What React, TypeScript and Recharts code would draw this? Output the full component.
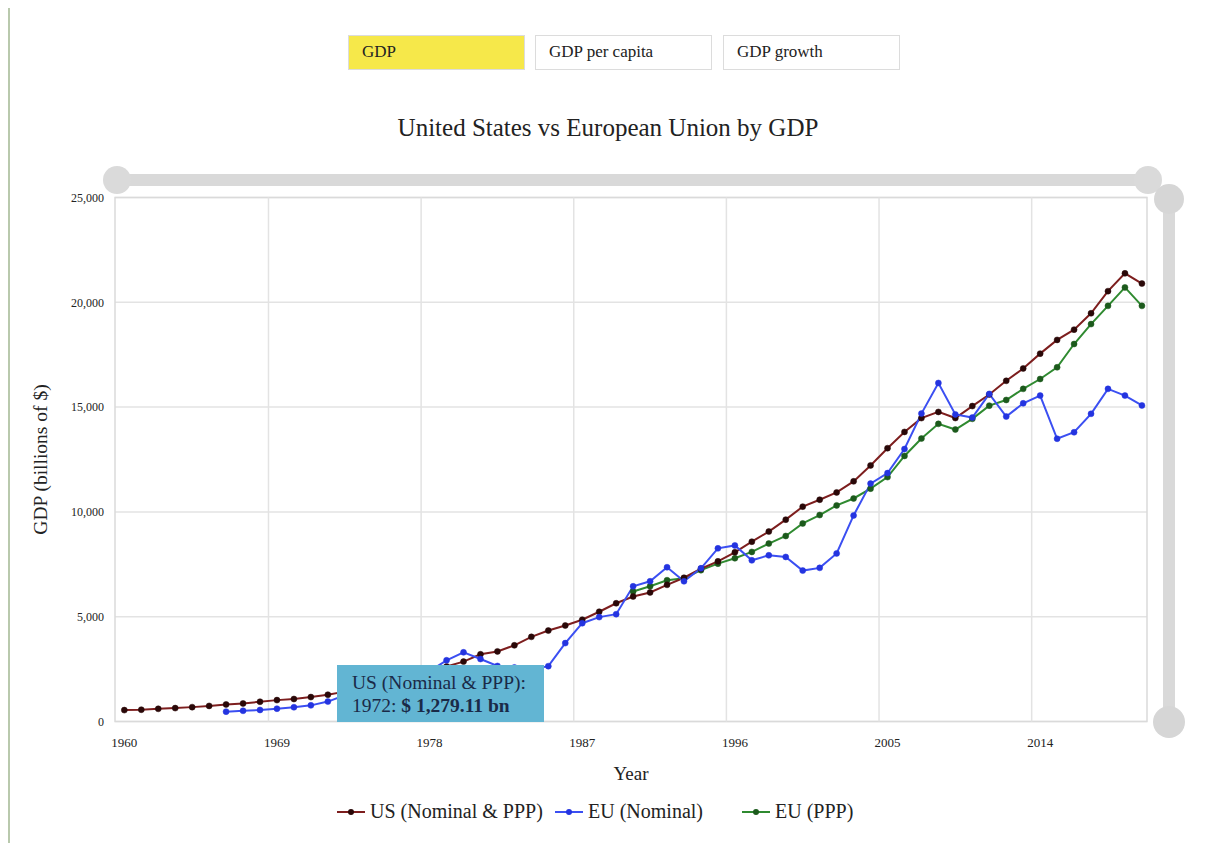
import React from 'react';
import {
  LineChart,
  Line,
  XAxis,
  YAxis,
  CartesianGrid,
  Tooltip,
  Legend,
  ReferenceLine,
  ReferenceArea,
} from 'recharts';

// ---------- data ----------
const years: number[] = [];
for (let y = 1960; y <= 2020; y++) years.push(y);

const usGdp = [
  543.3, 563.3, 605.1, 638.6, 685.8, 743.7, 815.0, 861.7, 942.5, 1019.9,
  1073.3, 1164.9, 1279.11, 1425.4, 1545.2, 1684.9, 1873.4, 2081.8, 2351.6, 2627.3,
  2857.3, 3207.0, 3343.8, 3634.0, 4037.6, 4338.9, 4579.6, 4855.2, 5236.4, 5641.6,
  5963.1, 6158.1, 6520.3, 6858.6, 7287.2, 7639.7, 8073.1, 8577.6, 9062.8, 9631.2,
  10251.0, 10581.9, 10929.1, 11456.5, 12217.2, 13039.2, 13815.6, 14474.2, 14769.9, 14478.1,
  15049.0, 15599.7, 16254.0, 16843.2, 17550.7, 18206.0, 18695.1, 19477.3, 20533.1, 21380.9,
  20893.7,
];

const euNominalStart = 1966;
const euNominal = [
  470, 510, 550, 610, 680, 770, 950,
  1250, 1400, 1650, 1720, 1950, 2400, 2920,
  3300, 2980, 2650, 2580, 2480, 2640, 3740, 4690, 4980, 5120,
  6450, 6690, 7360, 6690, 7310, 8260, 8400, 7690, 7930, 7850,
  7200, 7330, 8020, 9830, 11350, 11850, 13000, 14690, 16150, 14650,
  14500, 15630, 14550, 15180, 15550, 13490, 13800, 14680, 15870, 15550,
  15080,
];

const euPppStart = 1990;
const euPpp = [
  6200, 6450, 6740, 6830, 7220, 7530, 7790, 8090, 8490, 8850,
  9450, 9850, 10310, 10640, 11110, 11660, 12670, 13500, 14200, 13930,
  14440, 15070, 15340, 15870, 16340, 16900, 18010, 18960, 19830, 20710,
  19830,
];

const xTicks = [1960, 1969, 1978, 1987, 1996, 2005, 2014];
const gridYears = [1968.5, 1977.5, 1986.5, 1995.5, 2004.5, 2013.5];
const yTicks = [0, 5000, 10000, 15000, 20000, 25000];
const xDomain: [number, number] = [1959.45, 2020.3];

const seriesNames = {
  us: 'US (Nominal & PPP)',
  euNom: 'EU (Nominal)',
  euPpp: 'EU (PPP)',
};

const data = years.map((year, i) => ({
  year,
  us: usGdp[i],
  euNom: year >= euNominalStart ? euNominal[year - euNominalStart] : null,
  euPpp: year >= euPppStart ? euPpp[year - euPppStart] : null,
}));

// ---------- styles ----------
const FONT = '"Liberation Serif", "Times New Roman", serif';
const styles: Record<string, { line: string; dot: string }> = {
  us: { line: '#7d1e1e', dot: '#2a0808' },
  euNom: { line: '#3b4ff2', dot: '#2434e0' },
  euPpp: { line: '#2f8a30', dot: '#1c5a1c' },
};
const GRID = '#e3e3e3';

const LegendContent = () => {
  const items = [
    { key: 'us', name: seriesNames.us, w: 218 },
    { key: 'euNom', name: seriesNames.euNom, w: 187 },
    { key: 'euPpp', name: seriesNames.euPpp, w: 140 },
  ];
  return (
    <div
      style={{
        display: 'flex',
        justifyContent: 'flex-start',
        alignItems: 'center',
        paddingLeft: 329,
        fontFamily: FONT,
        fontSize: 20,
        color: '#222',
      }}
    >
      {items.map((it) => (
        <div key={it.key} style={{ display: 'flex', alignItems: 'center', width: it.w, whiteSpace: 'nowrap' }}>
          <svg width={28} height={10} style={{ marginRight: 5 }}>
            <line x1={0} y1={5} x2={28} y2={5} stroke={styles[it.key].line} strokeWidth={2} />
            <circle cx={14} cy={5} r={3} fill={styles[it.key].dot} />
          </svg>
          <span>{it.name}</span>
        </div>
      ))}
    </div>
  );
};

const TooltipContent = (props: any) => {
  const { payload } = props;
  const p = (payload || []).find((e: any) => e.dataKey === 'us');
  if (!p) return null;
  const val = Number(p.value).toLocaleString('en-US', {
    minimumFractionDigits: 2,
    maximumFractionDigits: 2,
  });
  return (
    <div
      style={{
        background: '#62b5d3',
        width: 207,
        height: 57,
        boxSizing: 'border-box',
        padding: '6px 0 0 15px',
        fontFamily: FONT,
        fontSize: 19.5,
        lineHeight: '23px',
        color: '#1a2a48',
        whiteSpace: 'nowrap',
      }}
    >
      <div>{seriesNames.us}:</div>
      <div>
        {p.payload.year}: <b>$ {val} bn</b>
      </div>
    </div>
  );
};

const Button = ({ label, left, active }: { label: string; left: number; active?: boolean }) => (
  <div
    style={{
      position: 'absolute',
      left,
      top: 27,
      width: 177,
      height: 35,
      boxSizing: 'border-box',
      border: '1px solid #dcdcdc',
      background: active ? '#f6e84a' : '#fff',
      fontFamily: FONT,
      fontSize: 17,
      color: '#222',
      paddingLeft: 13,
      lineHeight: '32px',
    }}
  >
    {label}
  </div>
);

export default function App() {
  return (
    <div style={{ position: 'relative', width: 1196, height: 835, background: '#fff' }}>
      {/* page left border */}
      <div style={{ position: 'absolute', left: 0, top: -8, width: 2, height: 851, background: '#b9c9ad' }} />

      <Button label="GDP" left={340} active />
      <Button label="GDP per capita" left={527} />
      <Button label="GDP growth" left={715} />

      <div
        style={{
          position: 'absolute',
          left: 0,
          width: 1200,
          top: 106,
          textAlign: 'center',
          fontFamily: FONT,
          fontSize: 25,
          color: '#222',
        }}
      >
        United States vs European Union by GDP
      </div>

      {/* range slider decorations */}
      <div style={{ position: 'absolute', left: 110, top: 166, width: 1030, height: 12, background: '#d9d9d9' }} />
      <div style={{ position: 'absolute', left: 95, top: 158, width: 28, height: 28, borderRadius: 14, background: '#dadada' }} />
      <div style={{ position: 'absolute', left: 1126, top: 158, width: 28, height: 28, borderRadius: 14, background: '#dadada' }} />
      <div style={{ position: 'absolute', left: 1155, top: 190, width: 12, height: 524, background: '#d9d9d9' }} />
      <div style={{ position: 'absolute', left: 1146, top: 176, width: 30, height: 30, borderRadius: 15, background: '#d6d6d6' }} />
      <div style={{ position: 'absolute', left: 1145, top: 698, width: 32, height: 32, borderRadius: 16, background: '#d6d6d6' }} />

      <div style={{ position: 'absolute', left: 0, top: 0 }}>
        <LineChart
          width={1196}
          height={835}
          data={data}
          margin={{ top: 189.5, right: 57, left: 22, bottom: 61.5 }}
        >
          <CartesianGrid vertical={false} stroke={GRID} strokeWidth={1.5} />
          {gridYears.map((g) => (
            <ReferenceLine key={g} x={g} stroke={GRID} strokeWidth={1.5} />
          ))}
          <ReferenceArea
            x1={xDomain[0]}
            x2={xDomain[1]}
            y1={0}
            y2={25000}
            fill="none"
            stroke="#dadada"
            strokeWidth={1.5}
          />
          <XAxis
            dataKey="year"
            type="number"
            domain={xDomain}
            ticks={xTicks}
            allowDataOverflow
            axisLine={false}
            tickLine={false}
            tickMargin={10}
            height={60}
            tick={{ fontFamily: FONT, fontSize: 13, fill: '#222' }}
            label={{
              value: 'Year',
              position: 'center',
              dy: 22,
              style: { fontFamily: FONT, fontSize: 19, fill: '#222' },
            }}
          />
          <YAxis
            type="number"
            domain={[0, 25000]}
            ticks={yTicks}
            width={85}
            axisLine={false}
            tickLine={false}
            tickMargin={5}
            tickFormatter={(v: number) => v.toLocaleString('en-US')}
            tick={{ fontFamily: FONT, fontSize: 12, fill: '#222' }}
            label={{
              value: 'GDP (billions of $)',
              angle: -90,
              position: 'center',
              dx: -32,
              style: { fontFamily: FONT, fontSize: 19.5, fill: '#222', textAnchor: 'middle' },
            }}
          />
          <Line
            dataKey="euPpp"
            name={seriesNames.euPpp}
            stroke={styles.euPpp.line}
            strokeWidth={2}
            dot={{ r: 3, fill: styles.euPpp.dot, stroke: styles.euPpp.dot, strokeWidth: 0.5 }}
            activeDot={false}
            connectNulls={false}
            isAnimationActive={false}
          />
          <Line
            dataKey="us"
            name={seriesNames.us}
            stroke={styles.us.line}
            strokeWidth={2}
            dot={{ r: 3, fill: styles.us.dot, stroke: styles.us.dot, strokeWidth: 0.5 }}
            activeDot={false}
            isAnimationActive={false}
          />
          <Line
            dataKey="euNom"
            name={seriesNames.euNom}
            stroke={styles.euNom.line}
            strokeWidth={2}
            dot={{ r: 3, fill: styles.euNom.dot, stroke: styles.euNom.dot, strokeWidth: 0.5 }}
            activeDot={false}
            connectNulls={false}
            isAnimationActive={false}
          />
          <Legend
            layout="vertical"
            align="center"
            verticalAlign="middle"
            wrapperStyle={{ top: 792, left: 0, width: 1196 }}
            content={<LegendContent />}
          />
          <Tooltip
            defaultIndex={12}
            active
            position={{ x: 329, y: 657 }}
            cursor={false}
            isAnimationActive={false}
            wrapperStyle={{ outline: 'none' }}
            content={<TooltipContent />}
          />
        </LineChart>
      </div>
    </div>
  );
}
